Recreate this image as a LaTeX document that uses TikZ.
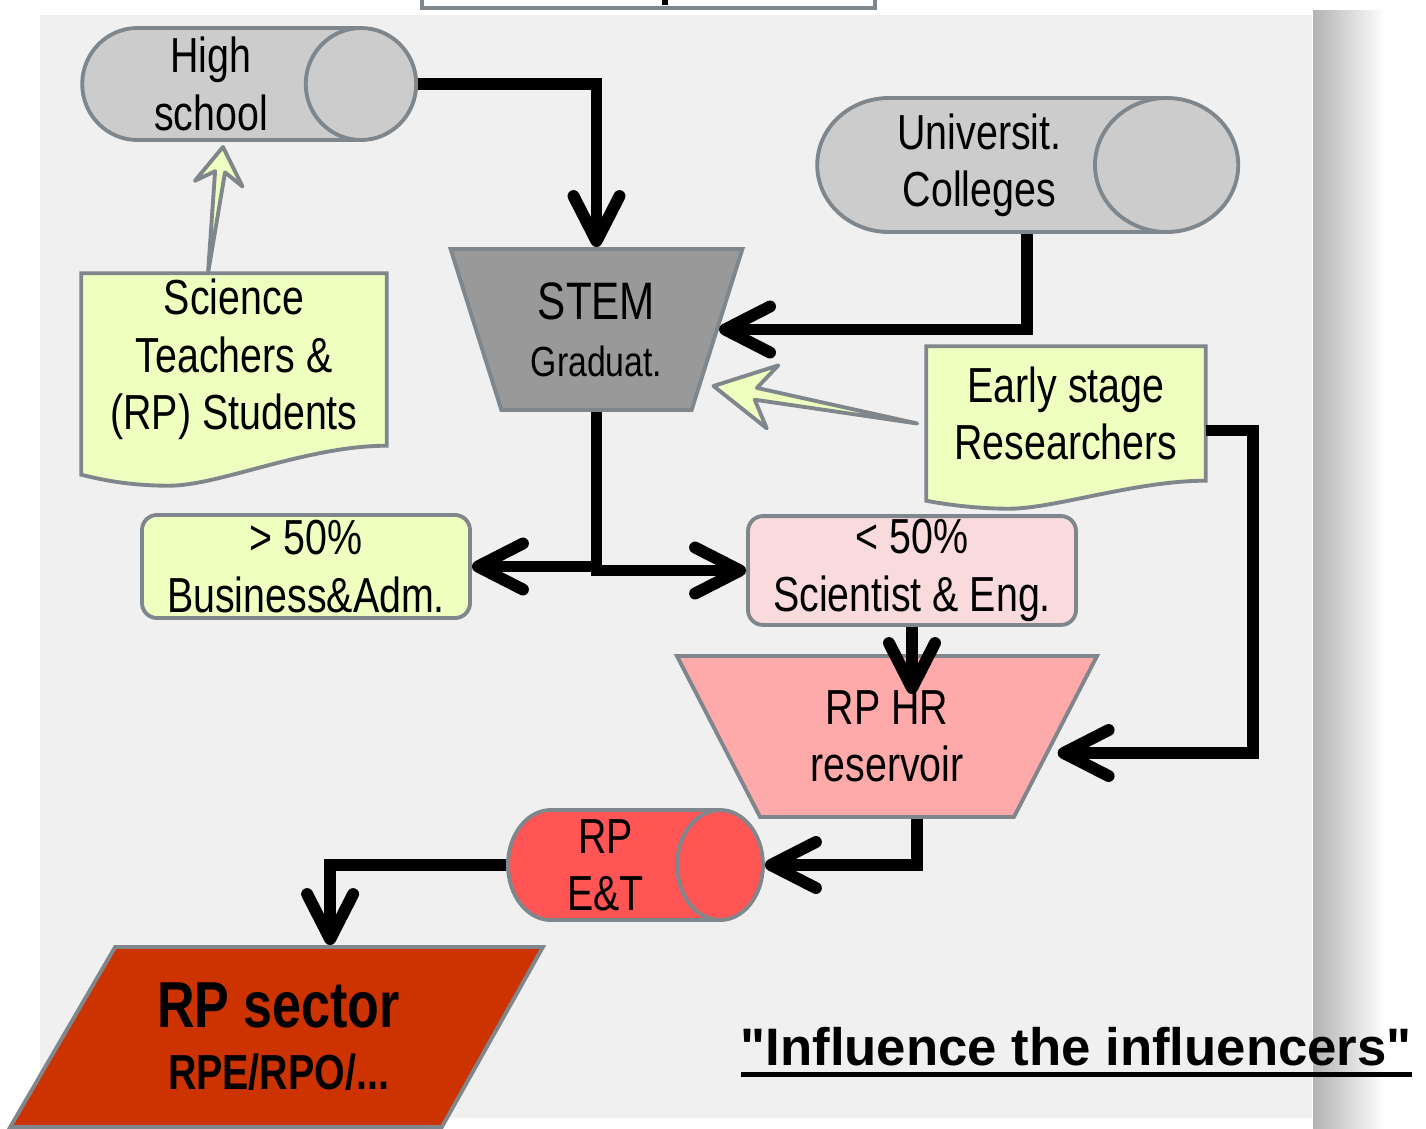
\documentclass[tikz,border=0pt]{standalone}
\usepackage{fontspec}
\setmainfont{Liberation Sans}
\newfontfamily\narrowfont[FakeStretch=0.8]{Liberation Sans}
\newfontfamily\mottofont[Ligatures=TeXOff]{Liberation Sans}
\usetikzlibrary{shapes.geometric,arrows.meta,calc,backgrounds}

\definecolor{panel}{RGB}{240,240,240}
\definecolor{edge}{RGB}{127,134,140}
\definecolor{silver}{RGB}{204,204,204}
\definecolor{stemgrey}{RGB}{153,153,153}
\definecolor{lemon}{RGB}{238,255,192}
\definecolor{blush}{RGB}{249,218,221}
\definecolor{salmon}{RGB}{255,170,170}
\definecolor{coral}{RGB}{255,85,85}
\definecolor{rust}{RGB}{204,51,0}

% thick underline
\newcommand{\thickul}[1]{\setbox0\hbox{#1}\rlap{\copy0}\rule[-3.3pt]{\wd0}{1.4pt}}

% hollow pointer: from, to, head length, head half width, notch, shaft half width
\newcommand{\fatarrow}[6]{%
  \draw[hollow] (#1)
    -- ($($(#2)!#5!(#1)$)!#6!90:(#2)$)
    -- ($($(#2)!#3!(#1)$)!#4!90:(#2)$)
    -- (#2)
    -- ($($(#2)!#3!(#1)$)!#4!-90:(#2)$)
    -- ($($(#2)!#5!(#1)$)!#6!-90:(#2)$)
    -- cycle;}

\begin{document}
\begin{tikzpicture}[
  box/.style={draw=edge,line width=1.1pt,align=center,inner sep=1pt,
    font=\narrowfont\fontsize{14}{16.3}\selectfont},
  drum/.style={box,cylinder,fill=#1},
  funnel/.style={box,trapezium,shape border rotate=180,trapezium stretches=true},
  tag/.style={box,rounded corners=1.5mm,fill=#1},
  sheet/.style={align=center,inner sep=0pt,font=\narrowfont\fontsize{14}{16.3}\selectfont},
  flow/.style={line width=3.4pt,-{Straight Barb[length=4.5mm,width=4.6mm,round]}},
  hollow/.style={draw=edge,fill=lemon,line width=1.1pt,line join=round}]
\useasboundingbox (0,0) rectangle (14.26,-11.28);

% panel and shadow
\begin{scope}[on background layer]
\fill[panel] (0.40,-0.15) rectangle (13.12,-11.18);
\shade[left color=black!30,right color=white] (13.13,-0.10) rectangle (13.85,-11.28);
\end{scope}
\draw[edge,line width=1.1pt,fill=white] (4.22,0.20) rectangle (8.75,-0.08);
\draw[line width=1.5pt] (6.65,0.10) -- (6.65,-0.05);

% stores
\node[drum=silver,minimum height=3.34cm,minimum width=1.12cm,aspect=1.1] (hs) at (2.11,-0.84) {High\\school};
\node[drum=silver,minimum height=4.21cm,minimum width=1.34cm,aspect=1.3] (uc) at (9.795,-1.65) {Universit.\\Colleges};
\node[drum=coral,minimum height=2.55cm,minimum width=1.10cm,aspect=0.87] (rpet) at (6.055,-8.65) {RP\\E\&T};

% funnels
\node[funnel,fill=stemgrey,trapezium angle=70,minimum width=2.93cm,minimum height=1.61cm] (stem) at (5.965,-3.295)
  {{\fontsize{15}{16}\selectfont STEM}\\{\fontsize{12}{15}\selectfont Graduat.}};
\node[funnel,fill=salmon,trapezium angle=62,minimum width=4.22cm,minimum height=1.61cm] (rphr) at (8.87,-7.365) {RP HR\\reservoir};

% shares
\node[tag=lemon,minimum width=3.28cm,minimum height=1.03cm] (bus) at (3.06,-5.665) {> 50\%\\Business\&Adm.};
\node[tag=blush,minimum width=3.28cm,minimum height=1.03cm] (sci) at (9.12,-5.705) {< 50\%\\Scientist \& Eng.};

% documents
\node[sheet,minimum width=3.04cm,minimum height=1.71cm] (sct) at (2.34,-3.595) {Science\\Teachers \&\\(RP) Students};
\node[sheet,minimum width=2.78cm,minimum height=1.33cm] (esr) at (10.66,-4.135) {Early stage\\Researchers};
\begin{scope}[on background layer]
\draw[edge,line width=1.1pt,fill=lemon] (sct.north west) -- (sct.north east) -- (sct.south east)
  .. controls +(-0.8,0) and +(0.5,0) .. ($(sct.south west)+(0.88,-0.40)$)
  .. controls +(-0.4,0) and +(0.2,-0.05) .. ($(sct.south west)+(0,-0.29)$) -- cycle;
\draw[edge,line width=1.1pt,fill=lemon] (esr.north west) -- (esr.north east) -- (esr.south east)
  .. controls +(-0.7,0) and +(0.45,0) .. ($(esr.south west)+(0.83,-0.28)$)
  .. controls +(-0.35,0) and +(0.15,-0.03) .. ($(esr.south west)+(0,-0.20)$) -- cycle;
\end{scope}

% sector
\node[box,trapezium,trapezium left angle=55,trapezium right angle=124,trapezium stretches=true,
  fill=rust,minimum width=5.33cm,minimum height=1.80cm,font=\narrowfont\bfseries\fontsize{14}{17.6}\selectfont] (sector) at (2.785,-10.37)
  {{\fontsize{18.5}{17.6}\selectfont RP sector}\\RPE/RPO/...};
\node[anchor=base west,inner sep=0pt,font=\mottofont\bfseries\fontsize{15}{18}\selectfont] (motto) at (7.40,-10.65)
  {\thickul{"Influence the influencers"}};

% flows
\draw[flow] (hs.east) -| (stem.90);
\draw[flow] ([xshift=4.7mm]uc.south) |- (stem.0);
\draw[flow] (stem.270) |- (bus.east);
\draw[flow] (stem.270) |- (sci.west);
\draw[flow] (sci.south) -- ($(sci.south |- rphr.90)+(0,-0.4)$);
\draw[flow] ([yshift=-1.7mm]esr.east) -- ++(0.47,0) |- ([yshift=-1.65mm]rphr.0);
\draw[flow] ([xshift=3mm]rphr.270) |- (rpet.east);
\draw[flow] (rpet.west) -| (sector.top side);

% influence
\coordinate (h1) at ([xshift=-2.6mm]sct.north);
\coordinate (h2) at ([xshift=1.2mm,yshift=-0.5mm]hs.south);
\fatarrow{h1}{h2}{3.7mm}{2.4mm}{2.5mm}{0.5mm}
\coordinate (e1) at ([xshift=-0.9mm,yshift=-1mm]esr.west);
\coordinate (e2) at ($(stem.center)+(1.17,-0.565)$);
\fatarrow{e1}{e2}{6mm}{3.2mm}{4.3mm}{0.6mm}
\end{tikzpicture}
\end{document}
